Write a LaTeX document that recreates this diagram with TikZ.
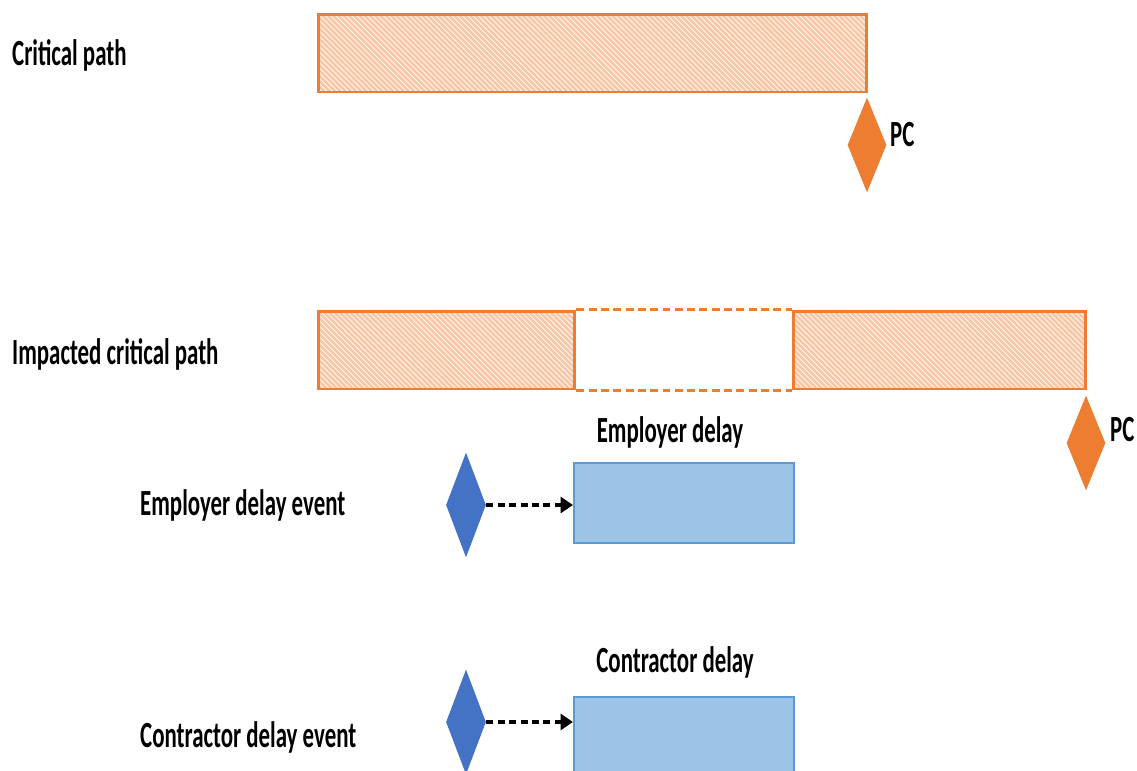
\documentclass[tikz,border=0pt]{standalone}
\usepackage{fontspec}
\setmainfont{Carlito}
\usetikzlibrary{shapes.geometric,arrows.meta,patterns}

\definecolor{pathorange}{RGB}{237,125,49}
\definecolor{hatchfill}{RGB}{248,200,166}
\definecolor{delayblue}{RGB}{157,195,230}
\definecolor{delayedge}{RGB}{91,155,213}
\definecolor{eventblue}{RGB}{68,114,196}

\tikzset{
	lbl/.style={font=\bfseries\fontsize{21}{24}\selectfont, xscale=0.62, inner sep=0pt},
	hatchbar/.style={draw=pathorange, line width=1.7pt, preaction={fill=hatchfill},
		pattern=north west lines, pattern color=white, minimum height=1.56cm, inner sep=0pt},
	gapline/.style={draw=pathorange, line width=1.7pt, dash pattern=on 4.5pt off 2.5pt},
	milestone/.style={diamond, fill=pathorange, minimum width=0.78cm, minimum height=1.9cm, inner sep=0pt},
	event/.style={diamond, fill=eventblue, minimum width=0.8cm, minimum height=2.1cm, inner sep=0pt},
	delaybox/.style={draw=delayedge, fill=delayblue, line width=1.2pt, minimum width=4.4cm, minimum height=1.6cm, inner sep=0pt},
	link/.style={draw=black, line width=1.8pt, dash pattern=on 4pt off 2.5pt, -{Triangle[length=7pt,width=9pt]}}
}

\begin{document}
\begin{tikzpicture}[x=0.02cm,y=-0.02cm]
	\useasboundingbox (0,0) rectangle (1137,771);
	\clip (0,0) rectangle (1137,771);
	
	% Critical path
	\node[lbl, anchor=west] (cpl) at (12,55) {Critical path};
	\node[hatchbar, minimum width=10.98cm] (cp) at (592.5,53) {};
	\node[milestone] (pc1) at (867,145) {};
	\node[lbl, anchor=west] (pc1l) at (890,135) {PC};
	
	% Impacted critical path
	\node[lbl, anchor=west] (icpl) at (12,354) {Impacted critical path};
	\node[hatchbar, minimum width=5.14cm] (icpa) at (446.5,350) {};
	\node[hatchbar, minimum width=5.86cm] (icpb) at (939.5,350) {};
	\draw[gapline] (icpa.north east) -- (icpb.north west);
	\draw[gapline] (icpa.south east) -- (icpb.south west);
	\node[milestone] (pc2) at (1086,443) {};
	\node[lbl, anchor=west] (pc2l) at (1110,430) {PC};
	
	% Employer delay
	\node[lbl] (edl) at (670,432) {Employer delay};
	\node[lbl, anchor=west] (eel) at (140,505) {Employer delay event};
	\node[event] (ee) at (466,505) {};
	\node[delaybox] (ed) at (684,503) {};
	\draw[link] (ee.east) -- (ee.east -| ed.west);
	
	% Contractor delay
	\node[lbl] (cdl) at (675,662) {Contractor delay};
	\node[lbl, anchor=west] (cel) at (140,737) {Contractor delay event};
	\node[event] (ce) at (466,722) {};
	\node[delaybox] (cd) at (684,737) {};
	\draw[link] (ce.east) -- (ce.east -| cd.west);
\end{tikzpicture}
\end{document}
